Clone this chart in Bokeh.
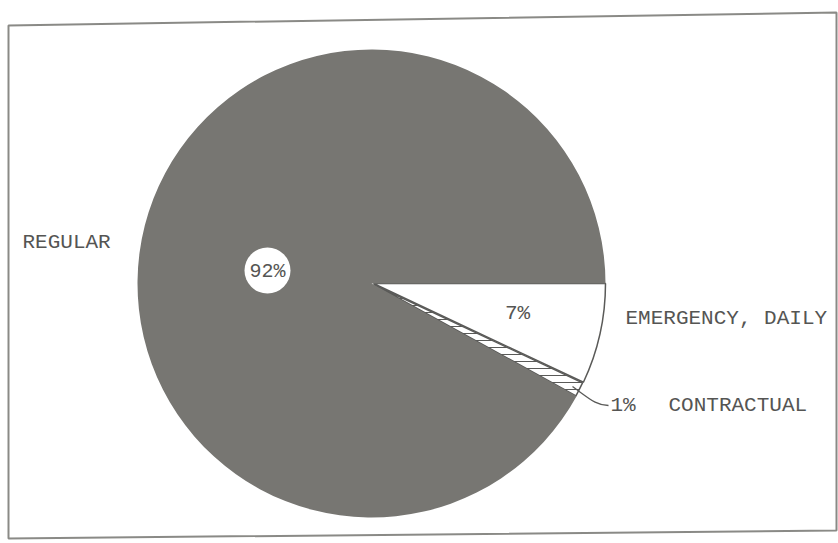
import math
from bokeh.plotting import figure
from bokeh.models import Range1d
from bokeh.embed import file_html
from bokeh.resources import INLINE
from bokeh.core.properties import value

# ---- data ----
categories = ["EMERGENCY, DAILY", "CONTRACTUAL", "REGULAR"]
shares = [7, 1, 92]
pct_labels = ["7%", "1%", "92%"]

W, H = 838, 543
def Y(v):
    return H - v

p = figure(width=W, height=H, x_range=Range1d(0, W), y_range=Range1d(0, H),
           output_backend="svg", toolbar_location=None, min_border=0)
p.axis.visible = False
p.grid.visible = False
p.outline_line_color = None
p.background_fill_color = "white"
p.border_fill_color = "white"

# frame (slightly skewed like the scan)
p.patch([8, 836, 836, 8], [Y(25), Y(12), Y(530), Y(538)],
        fill_color=None, line_color="#8a8a86", line_width=2)

cx, cy, r = 371, Y(283), 234
total = sum(shares)
cum = 0.0
angles = []
for s in shares:
    a0 = cum / total * 2 * math.pi
    cum += s
    a1 = cum / total * 2 * math.pi
    angles.append((-a1, -a0))

for cat, (sa, ea) in zip(categories, angles):
    if cat == "REGULAR":
        p.wedge(x=cx, y=cy, radius=r, start_angle=sa, end_angle=ea,
                fill_color="#777672", line_color=None)
    elif cat == "CONTRACTUAL":
        p.wedge(x=cx + 2, y=cy - 1, radius=r - 3, start_angle=sa, end_angle=ea,
                fill_color="white", line_color="#5a5a58", line_width=1.5,
                hatch_pattern="horizontal_line", hatch_color="#5a5a58",
                hatch_scale=7, hatch_weight=1)
    else:
        p.wedge(x=cx + 2, y=cy, radius=r - 2, start_angle=sa, end_angle=ea,
                fill_color="white", line_color="#5a5a58", line_width=1.5)

font = value("Liberation Mono")
tc = "#555553"

# 92% in white disc
p.circle(x=267, y=Y(270), radius=23, fill_color="white", line_color=None)
p.text(x=[267], y=[Y(271)], text=[pct_labels[2]], text_font=font, text_font_size="20px",
       text_align="center", text_baseline="middle", text_color=tc)
p.text(x=[22], y=[Y(242)], text=[categories[2]], text_font=font, text_font_size="21px",
       text_align="left", text_baseline="middle", text_color=tc)

# 7%
p.text(x=[517], y=[Y(313)], text=[pct_labels[0]], text_font=font, text_font_size="21px",
       text_align="center", text_baseline="middle", text_color=tc)
p.text(x=[625], y=[Y(318)], text=[categories[0]], text_font=font, text_font_size="21px",
       text_align="left", text_baseline="middle", text_color=tc)

# 1% with leader
p.bezier(x0=[572], y0=[Y(386)], x1=[608], y1=[Y(405)],
         cx0=[590], cy0=[Y(399)], cx1=[596], cy1=[Y(405)],
         line_color="#5a5a58", line_width=1.3)
p.text(x=[610], y=[Y(405)], text=[pct_labels[1]], text_font=font, text_font_size="21px",
       text_align="left", text_baseline="middle", text_color=tc)
p.text(x=[668], y=[Y(405)], text=[categories[1]], text_font=font, text_font_size="21px",
       text_align="left", text_baseline="middle", text_color=tc)

open("out.html", "w").write(file_html(p, INLINE))
